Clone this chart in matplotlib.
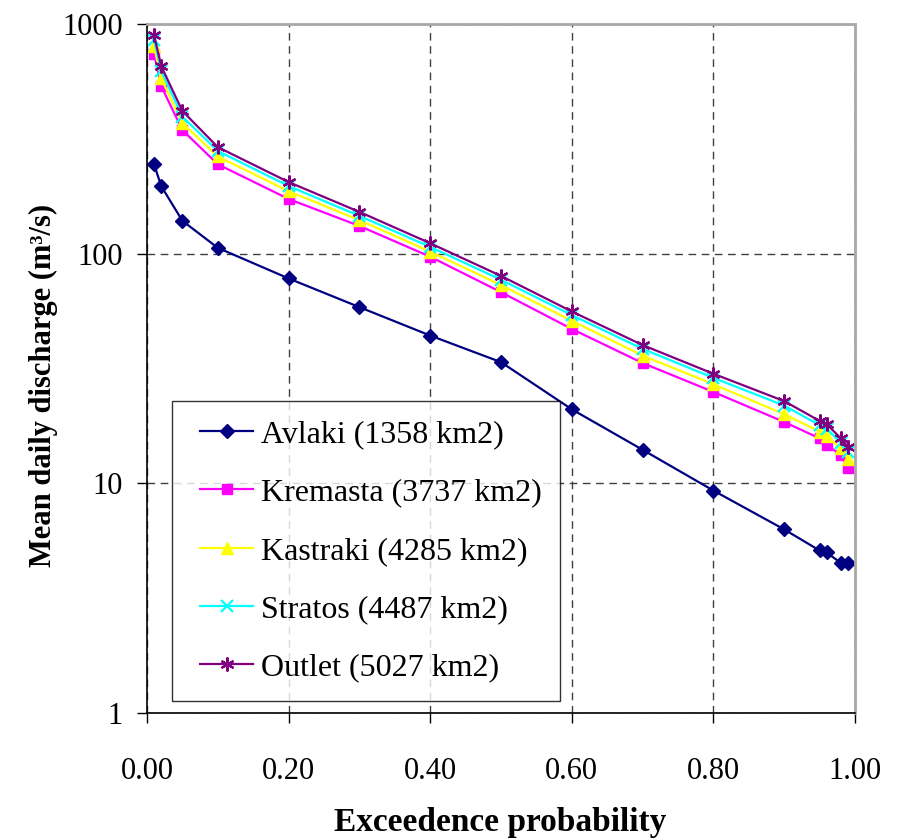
import matplotlib
matplotlib.use("Agg")
import matplotlib.pyplot as plt
from matplotlib.offsetbox import DrawingArea

prob = [0.01, 0.02, 0.05, 0.10, 0.20, 0.30, 0.40, 0.50, 0.60, 0.70, 0.80, 0.90, 0.95, 0.96, 0.98, 0.99]
avlaki   = [245, 197, 139, 106, 78, 58.5, 44, 33.7, 21, 14, 9.3, 6.3, 5.1, 5.0, 4.5, 4.5]
kremasta = [740, 537, 345, 245, 173, 132, 97, 68, 47, 33.4, 25, 18.5, 15.7, 14.7, 13.3, 11.7]
kastraki = [800, 580, 370, 265, 187, 140, 102, 73, 51, 36, 27, 20, 16.8, 16.0, 14.2, 12.8]
stratos  = [850, 625, 395, 280, 197, 146, 107, 77, 54, 38.5, 28.8, 21.8, 17.9, 17.3, 15.0, 13.7]
outlet   = [895, 656, 418, 291, 205, 152, 111, 80, 56, 40, 30, 22.8, 18.7, 18.1, 15.7, 14.4]

labels = ["Avlaki (1358 km2)", "Kremasta (3737 km2)", "Kastraki (4285 km2)",
          "Stratos (4487 km2)", "Outlet (5027 km2)"]
xticks = [0.0, 0.2, 0.4, 0.6, 0.8, 1.0]
xticklabels = ["0.00", "0.20", "0.40", "0.60", "0.80", "1.00"]
yticks = [1, 10, 100, 1000]
yticklabels = ["1", "10", "100", "1000"]

plt.rcParams['font.family'] = ['Liberation Serif', 'DejaVu Serif']

fig = plt.figure(figsize=(8.97, 8.39), dpi=100)
ax = fig.add_axes([147/897, 1 - 713/839, (855-147)/897, (713-24)/839])

series = [avlaki, kremasta, kastraki, stratos, outlet]
colors = ["#000080", "#FF00FF", "#FFFF00", "#00FFFF", "#800080"]
markers = ["D", "s", "^", "x", (6, 2, 0)]
msizes = [7, 7, 8, 8, 10]
for ys, c, m, ms, lab in zip(series, colors, markers, msizes, labels):
    ax.plot(prob, ys, color=c, marker=m, markersize=ms, linewidth=1.6,
            markeredgewidth=1.6 if (m == "x" or isinstance(m, tuple)) else 1.0,
            markeredgecolor=c, markerfacecolor=c, label=lab)

ax.set_yscale('log')
ax.set_xlim(0, 1)
ax.set_ylim(1, 1000)
ax.set_xticks(xticks)
ax.set_xticklabels(xticklabels)
ax.set_yticks(yticks)
ax.set_yticklabels(yticklabels)
ax.minorticks_off()
ax.tick_params(axis='both', direction='out', length=7.5, width=1, labelsize=22)
ax.tick_params(axis='x', pad=24)
ax.tick_params(axis='y', pad=10)
ax.grid(True, which='major', color='#404040', linestyle=(0, (5.5, 4)), linewidth=1.0)
for s in ['left', 'bottom']:
    ax.spines[s].set_color('black')
    ax.spines[s].set_linewidth(1.2)
for s in ['top', 'right']:
    ax.spines[s].set_color('#A8A8A8')
    ax.spines[s].set_linewidth(2)

ax.set_xlabel("Exceedence probability", fontsize=24, fontweight='bold')
ax.xaxis.set_label_coords((500-147)/708, (713-822)/689)
ax.xaxis.label.set_va('center')
ax.set_ylabel("Mean daily discharge (m\u00b3/s)", fontsize=22, fontweight='bold')
ax.yaxis.set_label_coords((43-147)/708, (713-385)/689)
ax.yaxis.label.set_va('center')

leg = ax.legend(loc='upper left', bbox_to_anchor=((172-147)/708, 0, (560-172)/708, (713-401)/689),
                mode='expand', fontsize=23, frameon=True, fancybox=False, edgecolor='black',
                borderpad=0.6, labelspacing=0.9, handlelength=1.65, handletextpad=0.25, borderaxespad=0)
leg.get_frame().set_linewidth(1.0)

# shift legend entries slightly right inside the frame
try:
    for col in leg._legend_handle_box.get_children():
        for item in col.get_children():
            sp = DrawingArea(0.8, 0.1)
            sp.set_figure(fig)
            item.get_children().insert(0, sp)
except Exception:
    pass

fig.savefig("out.png", dpi=100)
